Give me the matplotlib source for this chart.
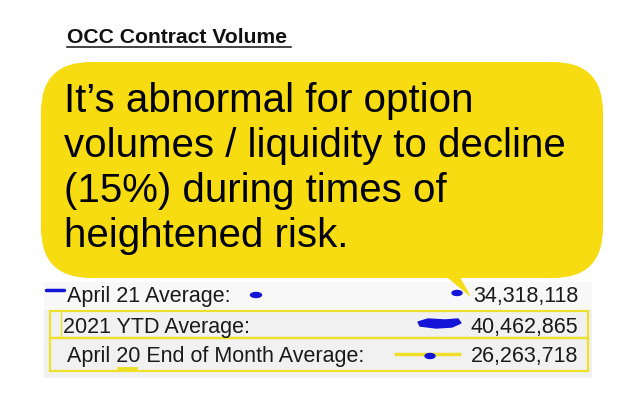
import matplotlib
matplotlib.use('Agg')
import matplotlib.pyplot as plt
from matplotlib.patches import FancyBboxPatch, Polygon, Rectangle, Ellipse

# --- content ---
title = 'OCC Contract Volume'
bubble_lines = ['It\u2019s abnormal for option',
                'volumes / liquidity to decline',
                '(15%) during times of',
                'heightened risk.']
row_labels = ['April 21 Average:', '2021 YTD Average:', 'April 20 End of Month Average:']
row_volumes = [34318118, 40462865, 26263718]

yellow = '#F7DC12'
box_yellow = '#EEE02A'
ink_blue = '#1414D8'
font = 'Liberation Sans'

fig = plt.figure(figsize=(6.39, 4.18), dpi=100)
ax = fig.add_axes([0, 0, 1, 1])
ax.set_xlim(0, 639)
ax.set_ylim(418, 0)
ax.axis('off')

# title, underlined
ax.text(67, 43, title, fontsize=15.2, fontweight='bold', family=font,
        color='#111111', va='baseline', ha='left')
ax.plot([67, 291], [46.5, 46.5], color='#111111', lw=1.1)

# table background
ax.add_patch(Rectangle((44, 282), 548, 96, facecolor='#F1F1F1', edgecolor='none', zorder=1))
ax.add_patch(Rectangle((44, 282), 548, 28, facecolor='#F8F8F8', edgecolor='none', zorder=1))

# table rows
row_base = [302, 333, 362]
row_x = [67, 63, 67]
for lab, vol, yb, xl in zip(row_labels, row_volumes, row_base, row_x):
    ax.text(xl, yb, lab, fontsize=15.5, family=font, color='#1a1a1a',
            va='baseline', ha='left', zorder=4)
    ax.text(578, yb, f'{vol:,}', fontsize=15.5, family=font, color='#1a1a1a',
            va='baseline', ha='right', zorder=4)

# yellow highlight boxes
ax.add_patch(Rectangle((50, 311), 538, 27, facecolor='none', edgecolor=box_yellow, lw=1.6, zorder=3))
ax.add_patch(Rectangle((50, 338), 538, 33, facecolor='none', edgecolor=box_yellow, lw=1.6, zorder=3))
ax.plot([61, 61], [312, 337], color=box_yellow, lw=1.0, zorder=3)

# pen marks
ax.plot([46, 64], [290, 290], color=ink_blue, lw=2.5, solid_capstyle='round', zorder=5)
ax.add_patch(Ellipse((256, 295), 11, 5, color=ink_blue, zorder=5))
ax.add_patch(Ellipse((457, 293), 10, 5, color=ink_blue, zorder=5))
ax.add_patch(Polygon([(418, 322), (428, 319), (445, 320), (458, 319), (461, 323),
                      (452, 327), (436, 328), (420, 326)], closed=True,
                     color=ink_blue, zorder=5))
ax.plot([396, 459], [354, 354], color=box_yellow, lw=2.5, zorder=5)
ax.add_patch(Ellipse((430, 356), 10, 5, color=ink_blue, zorder=6))
ax.plot([119, 135], [369, 369], color=box_yellow, lw=3.5, zorder=5)

# speech bubble
ax.add_patch(FancyBboxPatch((41, 62), 562, 216,
                            boxstyle='round,pad=0,rounding_size=50',
                            facecolor=yellow, edgecolor='none', zorder=7))
ax.add_patch(Polygon([(438, 270), (456, 270), (471, 297)], closed=True,
                     facecolor=yellow, edgecolor='none', zorder=7))

for i, line in enumerate(bubble_lines):
    ax.text(64, 112 + 45 * i, line, fontsize=29, family=font, color='black',
            va='baseline', ha='left', zorder=8)

fig.savefig('out.png', dpi=100, facecolor='white')
